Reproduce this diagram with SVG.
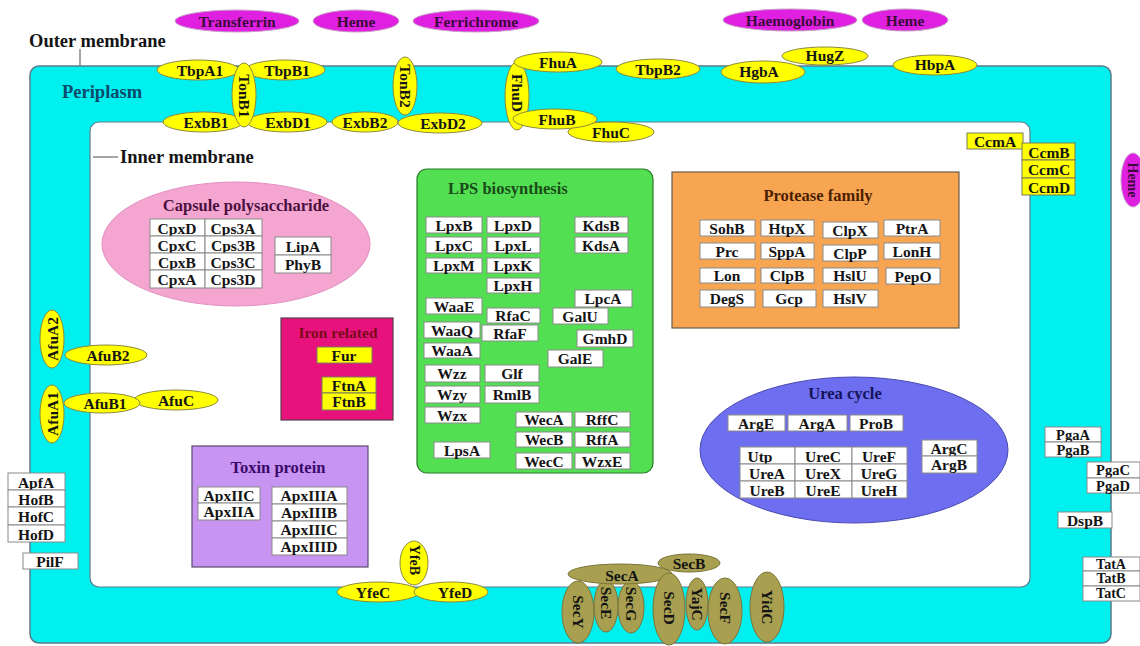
<svg xmlns="http://www.w3.org/2000/svg" width="1140" height="646" viewBox="0 0 1140 646">
<style>
text{font-family:"Liberation Serif",serif;font-weight:bold;font-size:15.5px;fill:#141414;text-anchor:middle;dominant-baseline:central}
.t{font-size:18.5px;text-anchor:start}
.h{font-size:16.5px}
.sm{font-size:14.5px}
.xs{font-size:14px}
.y{fill:#ffff00;stroke:#8c8a3c;stroke-width:1}
.m{fill:#e020e0;stroke:#c8a0c8;stroke-width:1}
.mt{fill:#3c0a3c}
.b{fill:#fff;stroke:#8a8a8a;stroke-width:1}
.yb{fill:#ffff00;stroke:#7a7a5a;stroke-width:1}
.s{fill:#a8a050;stroke:#7a7438;stroke-width:1}
</style>
<rect width="1140" height="646" fill="#fff"/>
<g id="membranes">
<rect x="30" y="66" width="1081" height="577" rx="9" fill="#00f0f0" stroke="#5a7c8a" stroke-width="1.5"/>
<rect x="90" y="122" width="940" height="465" rx="9" fill="#fff" stroke="#5a7c8a" stroke-width="1.2"/>
<text class="t" x="29" y="41">Outer membrane</text>
<text class="t" x="62" y="92" style="fill:#0a4a6a">Periplasm</text>
<text class="t" x="120" y="157">Inner membrane</text>
</g>
<g id="connectors" stroke="#6a6a6a" stroke-width="1.2" fill="none">
<line x1="80" y1="49" x2="80" y2="66"/>
<line x1="93" y1="157" x2="118" y2="157"/>
</g>
<g id="ligands">
<g id="Transferrin"><ellipse class="m" cx="237" cy="21" rx="62" ry="11"/><text class="mt" x="237" y="21">Transferrin</text></g>
<g id="Heme1"><ellipse class="m" cx="356" cy="21" rx="43" ry="11"/><text class="mt" x="356" y="21">Heme</text></g>
<g id="Ferrichrome"><ellipse class="m" cx="476" cy="21" rx="63" ry="11"/><text class="mt" x="476" y="21">Ferrichrome</text></g>
<g id="Haemoglobin"><ellipse class="m" cx="790" cy="20" rx="67" ry="11"/><text class="mt" x="790" y="20">Haemoglobin</text></g>
<g id="Heme2"><ellipse class="m" cx="905" cy="20" rx="43" ry="11"/><text class="mt" x="905" y="20">Heme</text></g>
<g id="Heme3"><ellipse class="m" cx="1133" cy="180" rx="12" ry="27"/><text class="mt" transform="translate(1132,180) rotate(90)" style="font-size:14px">Heme</text></g>
</g>
<g id="outer-proteins">
<g id="TbpA1"><ellipse class="y" cx="198" cy="70" rx="41" ry="10"/><text x="200" y="70">TbpA1</text></g>
<g id="TbpB1"><ellipse class="y" cx="285" cy="70" rx="40" ry="10"/><text x="287" y="70">TbpB1</text></g>
<g id="ExbB1"><ellipse class="y" cx="203" cy="122" rx="40" ry="10"/><text x="206" y="122">ExbB1</text></g>
<g id="ExbD1"><ellipse class="y" cx="287" cy="122" rx="40" ry="10"/><text x="288" y="122">ExbD1</text></g>
<g id="TonB1"><ellipse class="y" cx="244" cy="95" rx="12" ry="32"/><text transform="translate(244,96) rotate(90)">TonB1</text></g>
<g id="ExbB2"><ellipse class="y" cx="365" cy="122" rx="33" ry="10"/><text x="365" y="122">ExbB2</text></g>
<g id="ExbD2"><ellipse class="y" cx="440" cy="123" rx="42" ry="10"/><text x="443" y="123">ExbD2</text></g>
<g id="TonB2"><ellipse class="y" cx="405" cy="86" rx="12" ry="29"/><text transform="translate(405,86) rotate(90)">TonB2</text></g>
<g id="FhuD"><ellipse class="y" cx="517" cy="96" rx="12" ry="34"/><text transform="translate(517,93) rotate(90)">FhuD</text></g>
<g id="FhuC"><ellipse class="y" cx="611" cy="132" rx="43" ry="10"/><text x="611" y="132">FhuC</text></g>
<g id="FhuB"><ellipse class="y" cx="555" cy="119" rx="42" ry="10"/><text x="557" y="119">FhuB</text></g>
<g id="FhuA"><ellipse class="y" cx="558" cy="62" rx="44" ry="10"/><text x="558" y="62">FhuA</text></g>
<g id="TbpB2"><ellipse class="y" cx="658" cy="69" rx="42" ry="10"/><text x="658" y="69">TbpB2</text></g>
<g id="HugZ"><ellipse class="y" cx="825" cy="56" rx="43" ry="9"/><text x="825" y="55">HugZ</text></g>
<g id="HgbA"><ellipse class="y" cx="763" cy="72" rx="42" ry="11"/><text x="759" y="71">HgbA</text></g>
<g id="HbpA"><ellipse class="y" cx="935" cy="65" rx="42" ry="10"/><text x="935" y="64">HbpA</text></g>
</g>
<g id="Ccm">
<rect class="yb" x="967" y="133" width="56" height="16"/><text x="995" y="141">CcmA</text>
<rect class="yb" x="1022" y="143" width="53" height="17"/><text x="1049" y="152">CcmB</text>
<rect class="yb" x="1022" y="160" width="53" height="18"/><text x="1049" y="169">CcmC</text>
<rect class="yb" x="1022" y="178" width="53" height="17"/><text x="1049" y="187">CcmD</text>
</g>
<g id="capsule">
<ellipse cx="236" cy="244" rx="134" ry="62" fill="#f4a6d0" stroke="#e090c0"/>
<text class="h" x="246" y="205" style="fill:#4a1040">Capsule polysaccharide</text>
<rect class="b" x="150" y="219" width="55" height="17"/><text x="177" y="228">CpxD</text>
<rect class="b" x="205" y="219" width="57" height="17"/><text x="233" y="228">Cps3A</text>
<rect class="b" x="150" y="236" width="55" height="17"/><text x="177" y="245">CpxC</text>
<rect class="b" x="205" y="236" width="57" height="17"/><text x="233" y="245">Cps3B</text>
<rect class="b" x="150" y="253" width="55" height="17"/><text x="177" y="262">CpxB</text>
<rect class="b" x="205" y="253" width="57" height="17"/><text x="233" y="262">Cps3C</text>
<rect class="b" x="150" y="270" width="55" height="18"/><text x="177" y="279">CpxA</text>
<rect class="b" x="205" y="270" width="57" height="18"/><text x="233" y="279">Cps3D</text>
<rect class="b" x="275" y="237" width="56" height="18"/><text x="303" y="246">LipA</text>
<rect class="b" x="275" y="255" width="56" height="18"/><text x="303" y="264">PhyB</text>
</g>
<g id="LPS">
<rect x="417" y="169" width="236" height="304" rx="10" fill="#52e052" stroke="#2a7a2a" stroke-width="1.2"/>
<text class="h" x="448" y="188" style="text-anchor:start;fill:#1a4a1a">LPS biosynthesis</text>
<rect class="b" x="426" y="217" width="56" height="16"/><text x="454" y="225">LpxB</text>
<rect class="b" x="487" y="217" width="53" height="16"/><text x="513" y="225">LpxD</text>
<rect class="b" x="426" y="237" width="56" height="16"/><text x="454" y="245">LpxC</text>
<rect class="b" x="487" y="237" width="53" height="16"/><text x="513" y="245">LpxL</text>
<rect class="b" x="426" y="258" width="56" height="15"/><text x="454" y="265">LpxM</text>
<rect class="b" x="487" y="258" width="53" height="15"/><text x="513" y="265">LpxK</text>
<rect class="b" x="487" y="278" width="53" height="15"/><text x="513" y="285">LpxH</text>
<rect class="b" x="575" y="217" width="53" height="16"/><text x="601" y="225">KdsB</text>
<rect class="b" x="575" y="237" width="53" height="16"/><text x="601" y="245">KdsA</text>
<rect class="b" x="575" y="290" width="57" height="17"/><text x="603" y="298">LpcA</text>
<rect class="b" x="426" y="298" width="56" height="16"/><text x="454" y="306">WaaE</text>
<rect class="b" x="487" y="308" width="53" height="15"/><text x="513" y="315">RfaC</text>
<rect class="b" x="553" y="308" width="55" height="16"/><text x="580" y="316">GalU</text>
<rect class="b" x="424" y="322" width="56" height="16"/><text x="452" y="330">WaaQ</text>
<rect class="b" x="482" y="325" width="56" height="16"/><text x="510" y="333">RfaF</text>
<rect class="b" x="577" y="330" width="56" height="17"/><text x="605" y="338">GmhD</text>
<rect class="b" x="424" y="343" width="56" height="15"/><text x="452" y="350">WaaA</text>
<rect class="b" x="548" y="350" width="55" height="17"/><text x="575" y="358">GalE</text>
<rect class="b" x="425" y="365" width="55" height="17"/><text x="452" y="373">Wzz</text>
<rect class="b" x="485" y="365" width="54" height="17"/><text x="512" y="373">Glf</text>
<rect class="b" x="425" y="386" width="55" height="17"/><text x="452" y="394">Wzy</text>
<rect class="b" x="485" y="386" width="54" height="17"/><text x="512" y="394">RmlB</text>
<rect class="b" x="425" y="407" width="55" height="16"/><text x="452" y="415">Wzx</text>
<rect class="b" x="516" y="412" width="56" height="15"/><text x="544" y="419">WecA</text>
<rect class="b" x="575" y="412" width="55" height="15"/><text x="602" y="419">RffC</text>
<rect class="b" x="516" y="432" width="56" height="15"/><text x="544" y="439">WecB</text>
<rect class="b" x="575" y="432" width="55" height="15"/><text x="602" y="439">RffA</text>
<rect class="b" x="516" y="453" width="56" height="16"/><text x="544" y="461">WecC</text>
<rect class="b" x="575" y="453" width="55" height="16"/><text x="602" y="461">WzxE</text>
<rect class="b" x="434" y="442" width="56" height="16"/><text x="462" y="450">LpsA</text>
</g>
<g id="Protease">
<rect x="672" y="172" width="287" height="156" fill="#f8a552" stroke="#6a5a4a" stroke-width="1.2"/>
<text class="h" x="818" y="195" style="fill:#4a2000">Protease family</text>
<rect class="b" x="700" y="220" width="55" height="16"/><text x="727" y="228">SohB</text>
<rect class="b" x="761" y="220" width="53" height="16"/><text x="787" y="228">HtpX</text>
<rect class="b" x="823" y="222" width="55" height="16"/><text x="850" y="230">ClpX</text>
<rect class="b" x="884" y="220" width="56" height="16"/><text x="912" y="228">PtrA</text>
<rect class="b" x="700" y="243" width="55" height="16"/><text x="727" y="251">Prc</text>
<rect class="b" x="761" y="243" width="53" height="16"/><text x="787" y="251">SppA</text>
<rect class="b" x="823" y="245" width="55" height="16"/><text x="850" y="253">ClpP</text>
<rect class="b" x="884" y="243" width="56" height="16"/><text x="912" y="251">LonH</text>
<rect class="b" x="700" y="268" width="55" height="15"/><text x="727" y="275">Lon</text>
<rect class="b" x="761" y="268" width="53" height="15"/><text x="787" y="275">ClpB</text>
<rect class="b" x="823" y="268" width="55" height="15"/><text x="850" y="275">HslU</text>
<rect class="b" x="886" y="268" width="54" height="16"/><text x="913" y="276">PepO</text>
<rect class="b" x="700" y="290" width="55" height="17"/><text x="727" y="298">DegS</text>
<rect class="b" x="763" y="290" width="53" height="17"/><text x="789" y="298">Gcp</text>
<rect class="b" x="823" y="290" width="55" height="17"/><text x="850" y="298">HslV</text>
</g>
<g id="Iron">
<rect x="281" y="318" width="112" height="102" fill="#e8127c" stroke="#5a3a4a" stroke-width="1.2"/>
<text class="h" x="338" y="332" style="fill:#7a0a1a;font-size:15.5px">Iron related</text>
<rect class="yb" x="317" y="347" width="55" height="16"/><text x="344" y="355">Fur</text>
<rect class="yb" x="322" y="377" width="54" height="16"/><text x="349" y="385">FtnA</text>
<rect class="yb" x="322" y="393" width="54" height="17"/><text x="349" y="401">FtnB</text>
</g>
<g id="Toxin">
<rect x="192" y="446" width="176" height="121" fill="#c894f2" stroke="#5a4a6a" stroke-width="1.2"/>
<text class="h" x="278" y="467" style="fill:#3a0a6a">Toxin protein</text>
<rect class="b" x="198" y="487" width="62" height="16"/><text x="229" y="495">ApxIIC</text>
<rect class="b" x="198" y="503" width="62" height="17"/><text x="229" y="511">ApxIIA</text>
<rect class="b" x="272" y="487" width="75" height="17"/><text x="309" y="495">ApxIIIA</text>
<rect class="b" x="272" y="504" width="75" height="17"/><text x="309" y="512">ApxIIIB</text>
<rect class="b" x="272" y="521" width="75" height="17"/><text x="309" y="529">ApxIIIC</text>
<rect class="b" x="272" y="538" width="75" height="17"/><text x="309" y="546">ApxIIID</text>
</g>
<g id="Afu">
<g id="AfuB2"><ellipse class="y" cx="106" cy="355" rx="41" ry="10"/><text x="108" y="355">AfuB2</text></g>
<g id="AfuA2"><ellipse class="y" cx="52" cy="339" rx="12" ry="29"/><text transform="translate(52,339) rotate(-90)">AfuA2</text></g>
<g id="AfuC"><ellipse class="y" cx="176" cy="400" rx="42" ry="10"/><text x="176" y="400">AfuC</text></g>
<g id="AfuB1"><ellipse class="y" cx="102" cy="403" rx="38" ry="10"/><text x="105" y="403">AfuB1</text></g>
<g id="AfuA1"><ellipse class="y" cx="52" cy="414" rx="12" ry="29"/><text transform="translate(52,414) rotate(-90)">AfuA1</text></g>
</g>
<g id="Hof">
<rect class="b" x="8" y="473" width="57" height="17"/><text x="36" y="482">ApfA</text>
<rect class="b" x="8" y="490" width="57" height="17"/><text x="36" y="499">HofB</text>
<rect class="b" x="8" y="507" width="57" height="18"/><text x="36" y="516">HofC</text>
<rect class="b" x="8" y="525" width="57" height="17"/><text x="36" y="534">HofD</text>
<rect class="b" x="23" y="553" width="55" height="16"/><text x="50" y="561">PilF</text>
</g>
<g id="Urea">
<ellipse cx="854" cy="450" rx="154" ry="73" fill="#6e6ef0" stroke="#4a4ab0" stroke-width="1"/>
<text class="h" x="845" y="393" style="fill:#14145a">Urea cycle</text>
<rect class="b" x="728" y="415" width="57" height="16"/><text x="756" y="423">ArgE</text>
<rect class="b" x="788" y="415" width="59" height="16"/><text x="817" y="423">ArgA</text>
<rect class="b" x="850" y="415" width="53" height="16"/><text x="876" y="423">ProB</text>
<rect class="b" x="740" y="447" width="55" height="17"/><text x="760" y="456">Utp</text>
<rect class="b" x="795" y="447" width="57" height="17"/><text x="823" y="456">UreC</text>
<rect class="b" x="852" y="447" width="55" height="17"/><text x="879" y="456">UreF</text>
<rect class="b" x="740" y="464" width="55" height="17"/><text x="767" y="473">UreA</text>
<rect class="b" x="795" y="464" width="57" height="17"/><text x="823" y="473">UreX</text>
<rect class="b" x="852" y="464" width="55" height="17"/><text x="879" y="473">UreG</text>
<rect class="b" x="740" y="481" width="55" height="17"/><text x="767" y="490">UreB</text>
<rect class="b" x="795" y="481" width="57" height="17"/><text x="823" y="490">UreE</text>
<rect class="b" x="852" y="481" width="55" height="17"/><text x="879" y="490">UreH</text>
<rect class="b" x="922" y="440" width="55" height="16"/><text x="949" y="448">ArgC</text>
<rect class="b" x="922" y="456" width="55" height="17"/><text x="949" y="464">ArgB</text>
</g>
<g id="Pga">
<rect class="b" x="1045" y="427" width="56" height="15"/><text class="sm" x="1073" y="434.5">PgaA</text>
<rect class="b" x="1045" y="442" width="56" height="15"/><text class="sm" x="1073" y="449.5">PgaB</text>
<rect class="b" x="1087" y="462" width="53" height="16"/><text class="sm" x="1113" y="470">PgaC</text>
<rect class="b" x="1087" y="478" width="53" height="15"/><text class="sm" x="1113" y="485.5">PgaD</text>
<rect class="b" x="1058" y="512" width="54" height="16"/><text x="1085" y="520">DspB</text>
<rect class="b" x="1083" y="557" width="57" height="14"/><text class="xs" x="1111" y="564">TatA</text>
<rect class="b" x="1083" y="571" width="57" height="15"/><text class="xs" x="1111" y="578.5">TatB</text>
<rect class="b" x="1083" y="586" width="57" height="15"/><text class="xs" x="1111" y="593.5">TatC</text>
</g>
<g id="Yfe">
<g id="YfeB"><ellipse class="y" cx="414" cy="563" rx="14" ry="22"/><text transform="translate(414,560) rotate(90)" style="font-size:14px">YfeB</text></g>
<g id="YfeC"><ellipse class="y" cx="378" cy="592" rx="41" ry="10"/><text x="373" y="592">YfeC</text></g>
<g id="YfeD"><ellipse class="y" cx="451" cy="592" rx="37" ry="10"/><text x="455" y="592">YfeD</text></g>
</g>
<g id="Sec">
<g id="SecB"><ellipse class="s" cx="689" cy="563" rx="31" ry="9"/><text x="689" y="563">SecB</text></g>
<g id="SecY"><ellipse class="s" cx="578" cy="612" rx="16" ry="31"/><text transform="translate(578,612) rotate(90)">SecY</text></g>
<g id="SecE"><ellipse class="s" cx="606" cy="606" rx="12" ry="26"/><text transform="translate(606,603) rotate(90)">SecE</text></g>
<g id="SecG"><ellipse class="s" cx="631" cy="607" rx="13" ry="26"/><text transform="translate(631,604) rotate(90)">SecG</text></g>
<g id="SecA"><ellipse class="s" cx="620" cy="574" rx="52" ry="10"/><text x="622" y="575">SecA</text></g>
<g id="SecD"><ellipse class="s" cx="669" cy="609" rx="16" ry="36"/><text transform="translate(669,608) rotate(90)">SecD</text></g>
<g id="YajC"><ellipse class="s" cx="697" cy="604" rx="11" ry="26"/><text transform="translate(697,604) rotate(90)">YajC</text></g>
<g id="SecF"><ellipse class="s" cx="725" cy="611" rx="17" ry="33"/><text transform="translate(725,608) rotate(90)">SecF</text></g>
<g id="YidC"><ellipse class="s" cx="767" cy="607" rx="17" ry="35"/><text transform="translate(767,607) rotate(90)">YidC</text></g>
</g>
</svg>
